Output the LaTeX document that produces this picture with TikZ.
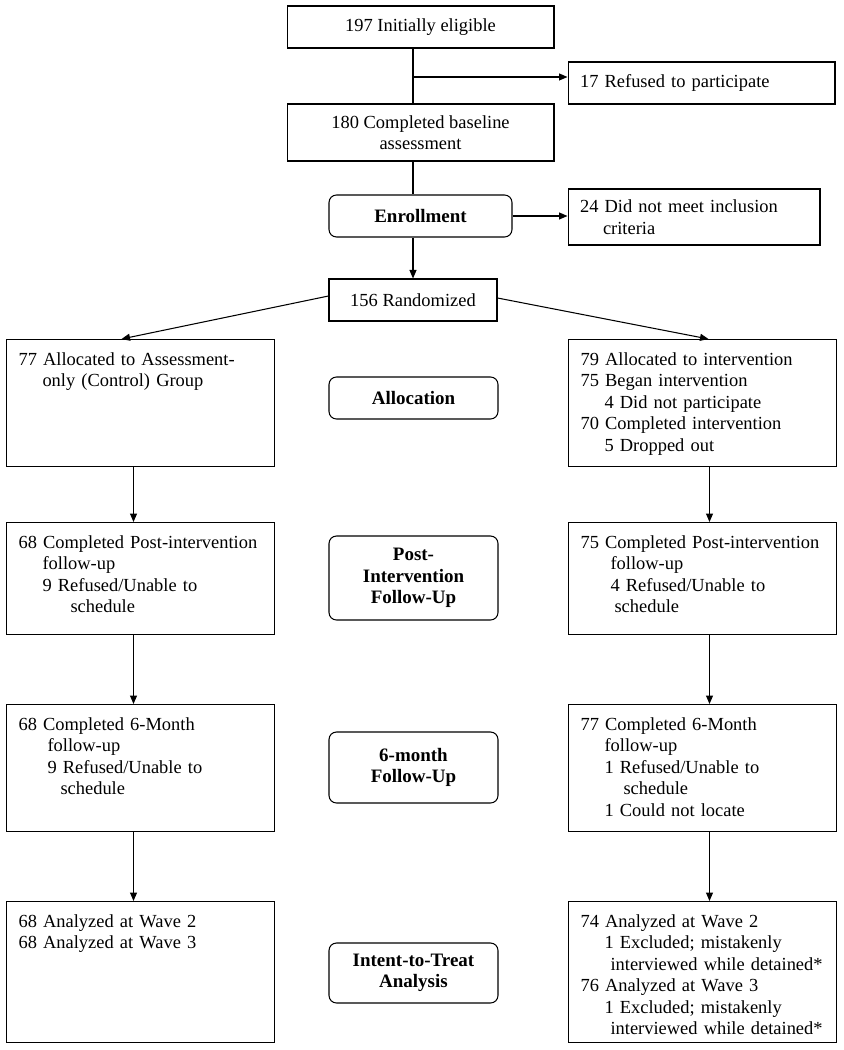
\documentclass[tikz,border=0pt]{standalone}
\usepackage{fontspec}
\setmainfont{Liberation Serif}
\usetikzlibrary{arrows.meta}
\newcommand{\armlines}[1]{\begin{tabular}[t]{@{}l@{}}#1\end{tabular}}

\begin{document}
\begin{tikzpicture}[x=0.02cm, y=-0.02cm, line width=0.6pt,
  font=\fontsize{10.5}{12.2}\selectfont,
  box/.style={draw, minimum height=0.84cm, align=center},
  side/.style={draw, align=left, inner xsep=0.24cm},
  phase/.style={draw, rounded corners=0.15cm, align=center, minimum width=3.38cm,
    minimum height=0.84cm, font=\fontsize{10.8}{12.2}\selectfont\bfseries},
  arm/.style={draw, anchor=north west, align=left, text width=4.88cm,
    inner xsep=0.24cm, inner ysep=0.2cm, text height=0.32cm},
  arr/.style={-{Triangle[length=0.17cm, width=0.14cm]}}]
\useasboundingbox (0,0) rectangle (843,1050);
\node[box, minimum width=5.34cm] (elig) at (420.5,27) {197 Initially eligible};
\node[side, text width=4.86cm, minimum height=0.84cm] (refus) at (701.5,83) {17 Refused to participate};
\node[box, minimum width=5.34cm, minimum height=1.14cm] (base) at (420.5,132.5) {180 Completed baseline\\assessment};
\node[phase, minimum width=3.66cm] (enroll) at (420.5,216) {Enrollment};
\node[side, text width=4.56cm, minimum height=1.12cm] (crit) at (694,217) {24 Did not meet inclusion\\\hspace*{0.46cm}criteria};
\node[box, minimum width=3.36cm] (rand) at (413,300) {156 Randomized};
\node[phase] (alloc) at (413.5,398) {Allocation};
\node[phase, minimum height=1.68cm] (post) at (413.5,578) {Post-\\Intervention\\Follow-Up};
\node[phase, minimum height=1.42cm] (six) at (413.5,767.5) {6-month\\Follow-Up};
\node[phase, minimum height=1.2cm] (itt) at (413.5,973) {Intent-to-Treat\\Analysis};
% control arm
\node[arm, text depth=1.82cm] (ctl1) at (6,339) {\armlines{77 Allocated to Assessment-\\\hspace*{0.48cm}only (Control) Group}};
\node[arm, text depth=1.52cm] (ctl2) at (6,522) {\armlines{68 Completed Post-intervention\\\hspace*{0.48cm}follow-up\\\hspace*{0.48cm}9 Refused/Unable to\\\hspace*{1.04cm}schedule}};
\node[arm, text depth=1.82cm] (ctl3) at (6,704) {\armlines{68 Completed 6-Month\\\hspace*{0.58cm}follow-up\\\hspace*{0.58cm}9 Refused/Unable to\\\hspace*{0.84cm}schedule}};
\node[arm, text depth=2.10cm] (ctl4) at (6,901) {\armlines{68 Analyzed at Wave 2\\68 Analyzed at Wave 3}};
% intervention arm
\node[arm, text depth=1.82cm] (int1) at (568,339) {\armlines{79 Allocated to intervention\\75 Began intervention\\\hspace*{0.48cm}4 Did not participate\\70 Completed intervention\\\hspace*{0.48cm}5 Dropped out}};
\node[arm, text depth=1.52cm] (int2) at (568,522) {\armlines{75 Completed Post-intervention\\\hspace*{0.6cm}follow-up\\\hspace*{0.6cm}4 Refused/Unable to\\\hspace*{0.68cm}schedule}};
\node[arm, text depth=1.82cm] (int3) at (568,704) {\armlines{77 Completed 6-Month\\\hspace*{0.48cm}follow-up\\\hspace*{0.48cm}1 Refused/Unable to\\\hspace*{0.86cm}schedule\\\hspace*{0.48cm}1 Could not locate}};
\node[arm, text depth=2.10cm] (int4) at (568,901) {\armlines{74 Analyzed at Wave 2\\\hspace*{0.48cm}1 Excluded; mistakenly\\\hspace*{0.6cm}interviewed while detained*\\76 Analyzed at Wave 3\\\hspace*{0.48cm}1 Excluded; mistakenly\\\hspace*{0.6cm}interviewed while detained*}};
\coordinate (sp) at (413,0);
\coordinate (br) at (413,77);
\draw (elig.south -| sp) -- (base.north -| sp);
\draw[arr] (br) -- (br -| refus.west);
\draw (base.south -| sp) -- (enroll.north -| sp);
\draw[arr] (enroll.east) -- (enroll.east -| crit.west);
\draw[arr] (enroll.south -| sp) -- (rand.north -| sp);
\draw[arr] ([yshift=0.08cm]rand.west) -- ([xshift=-0.38cm]ctl1.north);
\draw[arr] ([yshift=0.04cm]rand.east) -- ([xshift=0.12cm]int1.north);
\draw[arr] ([xshift=-0.14cm]ctl1.south) -- ([xshift=-0.14cm]ctl2.north);
\draw[arr] ([xshift=-0.14cm]ctl2.south) -- ([xshift=-0.14cm]ctl3.north);
\draw[arr] ([xshift=-0.14cm]ctl3.south) -- ([xshift=-0.14cm]ctl4.north);
\draw[arr] ([xshift=0.14cm]int1.south) -- ([xshift=0.14cm]int2.north);
\draw[arr] ([xshift=0.14cm]int2.south) -- ([xshift=0.14cm]int3.north);
\draw[arr] ([xshift=0.14cm]int3.south) -- ([xshift=0.14cm]int4.north);
\end{tikzpicture}
\end{document}
